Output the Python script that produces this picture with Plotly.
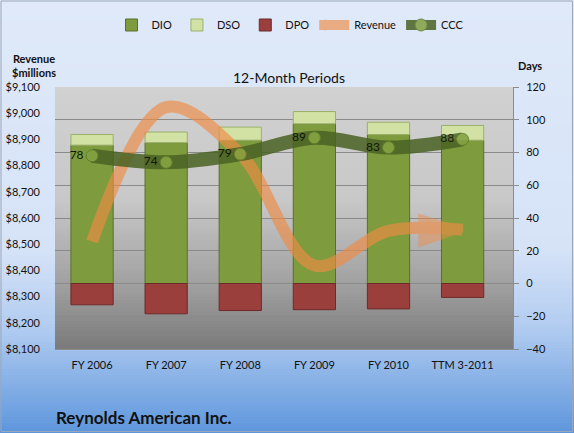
import plotly.graph_objects as go

categories = ["FY 2006", "FY 2007", "FY 2008", "FY 2009", "FY 2010", "TTM 3-2011"]
dio = [84.5, 86, 87.5, 97.5, 91, 87.5]
dso = [6.5, 6.5, 8, 7.5, 7.5, 9]
dpo = [13, 18.5, 16.5, 16, 15.5, 8.5]
ccc = [78, 74, 79, 89, 83, 88]
revenue = [8510, 9023, 8845, 8419, 8551, 8555]

W, H = 574, 433
L, R, T, B = 55, 513, 87, 349
FONT = "Lato"


def pxx(px):
    return (px - L) / (R - L)


def pxy(py):
    return (B - py) / (B - T)


def lerp_stops(stops, v):
    for (a, ca), (b, cb) in zip(stops, stops[1:]):
        if a <= v <= b:
            t = (v - a) / (b - a) if b > a else 0
            return tuple(round(ca[i] + (cb[i] - ca[i]) * t) for i in range(3))
    return stops[-1][1]


shapes = []
paper_stops = [(0, (223, 233, 249)), (250, (214, 227, 247)), (330, (176, 203, 240)), (433, (94, 150, 220))]
step = 3
for py in range(0, H, step):
    c = lerp_stops(paper_stops, py + step / 2)
    shapes.append(dict(type="rect", xref="paper", yref="paper", x0=pxx(0), x1=pxx(W),
                       y0=pxy(py + step), y1=pxy(py), fillcolor="rgb(%d,%d,%d)" % c,
                       line=dict(width=0), layer="below"))
plot_stops = [(T, (209, 209, 209)), (200, (200, 200, 200)), (285, (160, 160, 160)), (B, (122, 122, 122))]
for py in range(T, B, step):
    c = lerp_stops(plot_stops, py + step / 2)
    shapes.append(dict(type="rect", xref="paper", yref="paper", x0=0, x1=1,
                       y0=pxy(min(py + step, B)), y1=pxy(py), fillcolor="rgb(%d,%d,%d)" % c,
                       line=dict(width=0), layer="below"))
shapes.append(dict(type="rect", xref="paper", yref="paper", x0=pxx(1), x1=pxx(572.5),
                   y0=pxy(431.5), y1=pxy(1), line=dict(color="#9aa7b8", width=1),
                   fillcolor="rgba(0,0,0,0)", layer="above"))

fig = go.Figure()
fig.add_trace(go.Bar(x=categories, y=dio, name="DIO", yaxis="y",
                     marker=dict(color="#7e9c3e", line=dict(color="#5a6f2a", width=1))))
fig.add_trace(go.Bar(x=categories, y=dso, name="DSO", yaxis="y",
                     marker=dict(color="#d2e2a4", line=dict(color="#9bb06a", width=1))))
fig.add_trace(go.Bar(x=categories, y=[-v for v in dpo], name="DPO", yaxis="y",
                     marker=dict(color="#9a3f3c", line=dict(color="#6e2a28", width=1))))
fig.add_trace(go.Scatter(x=categories, y=revenue, name="Revenue", yaxis="y2",
                         mode="lines+markers",
                         line=dict(color="#f08c44", width=12, shape="spline", smoothing=1),
                         marker=dict(symbol="arrow", size=[0] * (len(revenue) - 1) + [44],
                                     angleref="previous", color="#f08c44",
                                     line=dict(width=5, color="#f08c44")),
                         opacity=0.65))
fig.add_trace(go.Scatter(x=categories, y=ccc, name="CCC", yaxis="y3",
                         mode="lines+markers+text", text=[str(v) for v in ccc],
                         textposition="middle left",
                         textfont=dict(family=FONT, size=12, color="#000000"),
                         line=dict(color="#4a6223", width=14, shape="spline", smoothing=1),
                         marker=dict(symbol="circle", size=12, color="#82a040",
                                     line=dict(color="#5b7a2a", width=1)),
                         opacity=0.85))

annotations = [
    dict(text="12-Month Periods", x=pxx(289), y=pxy(77), xref="paper", yref="paper",
         showarrow=False, font=dict(family=FONT, size=14, color="#111111"), xanchor="center", yanchor="middle"),
    dict(text="<b>Revenue<br>$millions</b>", x=pxx(34), y=pxy(65), xref="paper", yref="paper",
         showarrow=False, font=dict(family=FONT, size=11, color="#111111"), xanchor="center",
         yanchor="middle", align="center"),
    dict(text="<b>Days</b>", x=pxx(530), y=pxy(66), xref="paper", yref="paper",
         showarrow=False, font=dict(family=FONT, size=11, color="#111111"), xanchor="center", yanchor="middle"),
    dict(text="<b>Reynolds American Inc.</b>", x=pxx(54), y=pxy(417), xref="paper", yref="paper",
         showarrow=False, font=dict(family=FONT, size=17, color="#111111"), xanchor="left", yanchor="middle"),
]

fig.update_layout(
    width=W, height=H,
    margin=dict(l=L, r=W - R, t=T, b=H - B, pad=0, autoexpand=False),
    paper_bgcolor="#dfe9f9", plot_bgcolor="rgba(0,0,0,0)",
    barmode="relative", bargap=0.43,
    font=dict(family=FONT, size=11, color="#111111"),
    shapes=shapes, annotations=annotations,
    showlegend=True,
    legend=dict(orientation="h", x=pxx(290), xanchor="center", y=pxy(25), yanchor="middle",
                bgcolor="rgba(0,0,0,0)", font=dict(family=FONT, size=11), traceorder="normal",
                itemwidth=30),
    xaxis=dict(showline=True, linecolor="#8c8c8c", ticks="", showgrid=False, automargin=False,
               tickfont=dict(family=FONT, size=11), ticklabelstandoff=6),
    yaxis=dict(side="right", range=[-40, 120], dtick=20, showgrid=True, gridcolor="#8a8a8a",
               gridwidth=1, zeroline=False, ticks="outside", ticklen=5, tickcolor="#8c8c8c",
               showline=True, linecolor="#8c8c8c", tickfont=dict(family=FONT, size=11),
               ticklabelstandoff=5, automargin=False),
    yaxis2=dict(overlaying="y", side="left", range=[8100, 9100], dtick=100, tickprefix="$",
                tickformat=",d", showgrid=False, zeroline=False, ticks="", showline=False,
                tickfont=dict(family=FONT, size=11), ticklabelstandoff=14, automargin=False),
    yaxis3=dict(overlaying="y", range=[-40, 120], visible=False),
)

fig.write_html("out.html")
